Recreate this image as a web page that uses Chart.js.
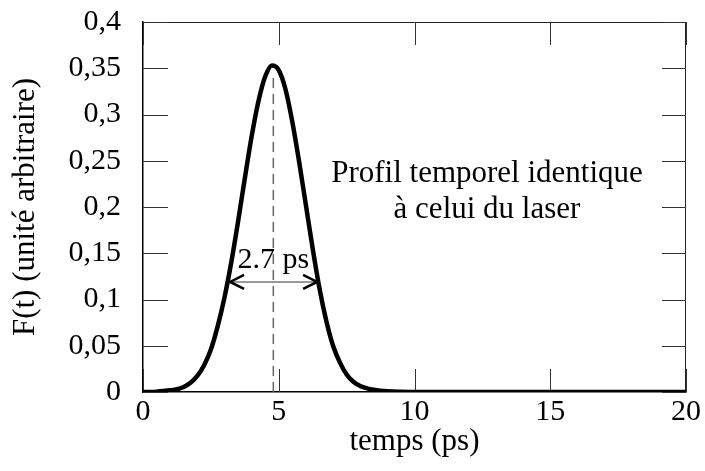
<!DOCTYPE html>
<html><head><meta charset="utf-8">
<script src="https://cdn.jsdelivr.net/npm/chart.js@4/dist/chart.umd.min.js"></script>
<style>html,body{margin:0;padding:0;background:#fff}#wrap{width:705px;height:471px}</style>
</head><body><div id="wrap"><canvas id="c" width="705" height="471"></canvas></div>
<script>
// Time axis (ps) and pulse profile F(t)
const times = [0,0.25,0.5,0.75,1,1.25,1.5,1.75,2,2.25,2.5,2.75,3,3.25,3.5,3.75,4,4.25,4.5,4.75,5,5.25,5.5,5.75,6,6.25,6.5,6.75,7,7.25,7.5,7.75,8,8.25,8.5,8.75,9,9.5,10,11,12,13,14,15,16,17,18,19,20];
const values = [0,0.0001,0.0004,0.0010,0.0018,0.0030,0.0055,0.0100,0.0173,0.029,0.046,0.071,0.102,0.140,0.184,0.231,0.276,0.314,0.341,0.353,0.348,0.327,0.292,0.249,0.202,0.155,0.112,0.077,0.050,0.032,0.019,0.011,0.0065,0.0040,0.0024,0.0014,0.0008,0.0003,0.0001,0,0,0,0,0,0,0,0,0,0];
const xTickLabels = ['0','5','10','15','20'];
const yTickLabels = ['0','0,05','0,1','0,15','0,2','0,25','0,3','0,35','0,4'];
// Annotation anchors (data units)
const peakTime = 4.8;
const peakLineTop = 0.346;
const fwhmLevel = 0.119;
const fwhmStart = 3.17;
const fwhmEnd = 6.45;
const fwhmText = '2.7 ps';
const noteLines = ['Profil temporel identique', 'à celui du laser'];
const noteX = 12.67;
const noteY = [0.227, 0.188];

const FONT = 'Liberation Serif, Times New Roman, serif';
const font30 = {family: FONT, size: 30};
const font31 = {family: FONT, size: 31};

const framePlugin = {
  id: 'frame',
  beforeDatasetsDraw(chart) {
    const {ctx, chartArea: a, scales: {x, y}} = chart;
    ctx.save();
    ctx.strokeStyle = '#222';
    ctx.lineWidth = 1;
    ctx.beginPath();
    ctx.moveTo(a.left, a.top + 0.5);
    ctx.lineTo(a.right - 0.5, a.top + 0.5);
    ctx.lineTo(a.right - 0.5, a.bottom);
    ctx.stroke();
    ctx.strokeStyle = '#333';
    x.ticks.forEach(t => {
      const px = Math.round(x.getPixelForValue(t.value)) + 0.5;
      ctx.beginPath();
      ctx.moveTo(px, a.bottom); ctx.lineTo(px, a.bottom - 23);
      ctx.moveTo(px, a.top); ctx.lineTo(px, a.top + 23);
      ctx.stroke();
    });
    y.ticks.forEach(t => {
      const py = Math.round(y.getPixelForValue(t.value)) + 0.5;
      ctx.beginPath();
      ctx.moveTo(a.left, py); ctx.lineTo(a.left + 25, py);
      ctx.moveTo(a.right, py); ctx.lineTo(a.right - 24, py);
      ctx.stroke();
    });
    const cx = x.getPixelForValue(peakTime);
    ctx.strokeStyle = '#666';
    ctx.lineWidth = 1.5;
    ctx.setLineDash([10, 6]);
    ctx.beginPath();
    ctx.moveTo(cx, y.getPixelForValue(0));
    ctx.lineTo(cx, y.getPixelForValue(peakLineTop));
    ctx.stroke();
    ctx.setLineDash([]);
    ctx.restore();
  },
  afterDatasetsDraw(chart) {
    const {ctx, scales: {x, y}} = chart;
    ctx.save();
    const ay = y.getPixelForValue(fwhmLevel);
    const x1 = x.getPixelForValue(fwhmStart);
    const x2 = x.getPixelForValue(fwhmEnd);
    ctx.strokeStyle = '#777';
    ctx.lineWidth = 1.5;
    ctx.beginPath(); ctx.moveTo(x1, ay); ctx.lineTo(x2, ay); ctx.stroke();
    ctx.strokeStyle = '#000';
    ctx.lineWidth = 2.5;
    ctx.beginPath();
    ctx.moveTo(x1 + 15, ay - 7); ctx.lineTo(x1 + 1, ay); ctx.lineTo(x1 + 15, ay + 7);
    ctx.moveTo(x2 - 15, ay - 7); ctx.lineTo(x2 - 1, ay); ctx.lineTo(x2 - 15, ay + 7);
    ctx.stroke();
    ctx.fillStyle = '#000';
    ctx.font = '30px ' + FONT;
    ctx.textAlign = 'center';
    ctx.textBaseline = 'alphabetic';
    ctx.fillText(fwhmText, x.getPixelForValue(peakTime), ay - 14);
    ctx.font = '31px ' + FONT;
    noteLines.forEach((s, i) => ctx.fillText(s, x.getPixelForValue(noteX), y.getPixelForValue(noteY[i])));
    ctx.restore();
  }
};

new Chart(document.getElementById('c'), {
  type: 'line',
  data: {
    datasets: [{
      data: times.map((t, i) => ({x: t, y: values[i]})),
      borderColor: '#000',
      borderWidth: 4.5,
      pointRadius: 0,
      cubicInterpolationMode: 'monotone',
      fill: false
    }]
  },
  options: {
    responsive: false,
    animation: false,
    devicePixelRatio: 1,
    layout: {padding: {left: 0, right: 19, top: 22, bottom: 0}},
    plugins: {legend: {display: false}, tooltip: {enabled: false}},
    scales: {
      x: {
        type: 'linear', min: 0, max: 20,
        ticks: {stepSize: 5, font: font30, color: '#000', padding: -6, maxRotation: 0,
          callback: (v, i) => xTickLabels[i]},
        grid: {display: false},
        border: {display: true, color: '#000', width: 1.5},
        title: {display: true, text: 'temps (ps)', font: font31, color: '#000', padding: {top: 0, bottom: 11}},
        afterFit(s) { s.height = 79; s.paddingLeft = 0; s.paddingRight = 0; }
      },
      y: {
        type: 'linear', min: 0, max: 0.4,
        ticks: {stepSize: 0.05, font: font30, color: '#000', padding: 14,
          callback: (v, i) => yTickLabels[i]},
        grid: {display: false},
        border: {display: true, color: '#000', width: 1.5},
        title: {display: true, text: 'F(t) (unité arbitraire)', font: font31, color: '#000', padding: {top: 7, bottom: 0}},
        afterFit(s) { s.width = 143; s.paddingTop = 0; s.paddingBottom = 0; }
      }
    }
  },
  plugins: [framePlugin]
});
</script>
</body></html>
